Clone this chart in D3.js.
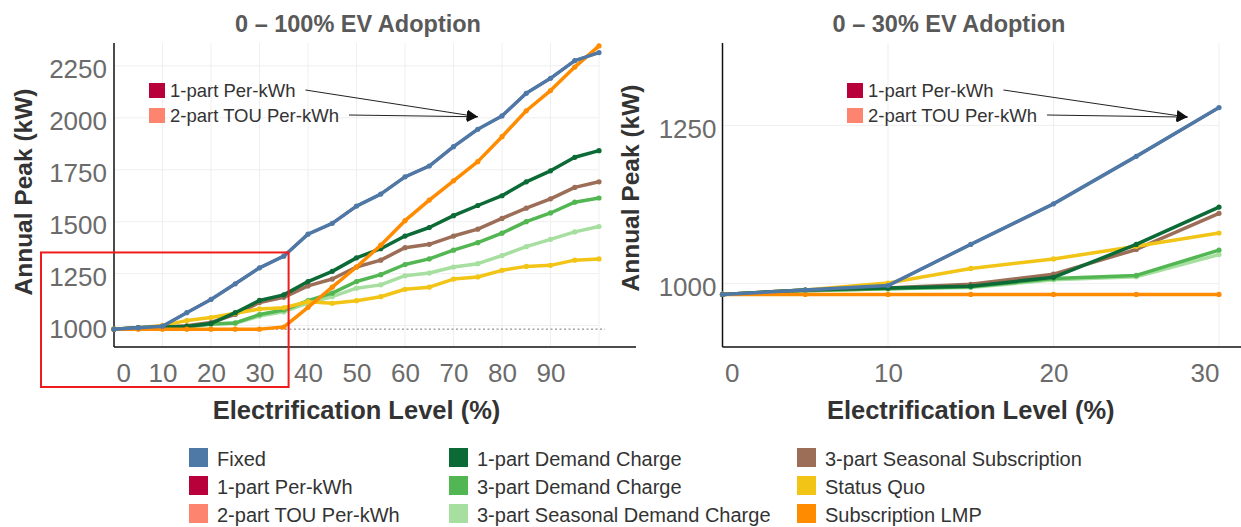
<!DOCTYPE html>
<html>
<head>
<meta charset="utf-8">
<script src="https://cdn.jsdelivr.net/npm/d3@7"></script>
<style>
  html, body { margin: 0; padding: 0; background: #fff; }
  svg { display: block; font-family: "Liberation Sans", Arial, sans-serif; }
</style>
</head>
<body>
<svg id="chart" width="1241" height="527"></svg>
<script>
// electrification level (%) – one point every 5%
const levels = [0, 5, 10, 15, 20, 25, 30, 35, 40, 45, 50, 55, 60, 65, 70, 75, 80, 85, 90, 95, 100];

// annual peak (kW)
const fixed          = [983, 990, 997, 1062, 1126, 1201, 1278, 1334, 1440, 1492, 1575, 1633, 1716, 1768, 1861, 1945, 2009, 2118, 2190, 2275, 2314];
const demand1        = [983, 990, 993, 996, 1010, 1062, 1121, 1148, 1212, 1261, 1326, 1370, 1431, 1472, 1529, 1578, 1625, 1692, 1745, 1810, 1842];
const demand3        = [983, 989, 992, 995, 1008, 1013, 1053, 1075, 1120, 1156, 1212, 1245, 1294, 1321, 1363, 1399, 1445, 1500, 1542, 1594, 1614];
const seasonalDemand = [983, 989, 992, 994, 1006, 1011, 1046, 1066, 1110, 1139, 1180, 1196, 1240, 1253, 1282, 1298, 1337, 1380, 1415, 1451, 1477];
const seasonalSub    = [983, 990, 993, 999, 1015, 1054, 1111, 1136, 1191, 1224, 1282, 1315, 1375, 1391, 1431, 1464, 1516, 1565, 1610, 1665, 1692];
const statusQuo      = [983, 990, 1001, 1024, 1039, 1059, 1080, 1086, 1115, 1107, 1120, 1139, 1175, 1185, 1224, 1234, 1266, 1285, 1290, 1315, 1321];
const subLMP         = [983, 983, 983, 983, 983, 983, 983, 993, 1088, 1185, 1282, 1387, 1505, 1604, 1697, 1789, 1909, 2034, 2131, 2244, 2346];
// the two per-kWh rates sit exactly under the Fixed line (see the arrows)
const perKwh1 = fixed;
const touPerKwh2 = fixed;

const seriesNames  = ['Fixed', '1-part Per-kWh', '2-part TOU Per-kWh',
                      '1-part Demand Charge', '3-part Demand Charge', '3-part Seasonal Demand Charge',
                      '3-part Seasonal Subscription', 'Status Quo', 'Subscription LMP'];
const seriesValues = [fixed, perKwh1, touPerKwh2, demand1, demand3, seasonalDemand, seasonalSub, statusQuo, subLMP];
const seriesColors = ['#4e79a7', '#b8003a', '#fd8570', '#0b6a36', '#52b752', '#a6df9f', '#9c6e57', '#f2c416', '#ff8b00'];
// bottom to top
const drawOrder = [2, 1, 5, 4, 6, 7, 3, 8, 0];
const hidden = [1, 2]; // covered by Fixed

const leftYTicks  = [1000, 1250, 1500, 1750, 2000, 2250];
const leftXTicks  = [0, 10, 20, 30, 40, 50, 60, 70, 80, 90];
const rightYTicks = [1000, 1250];
const rightXTicks = [0, 10, 20, 30];
const baseline = 983;

const svg = d3.select('#chart');
const TOP = 43, BOTTOM = 347;

svg.append('defs').append('marker')
  .attr('id', 'arrow').attr('viewBox', '0 0 10 10')
  .attr('refX', 10).attr('refY', 5)
  .attr('markerWidth', 11).attr('markerHeight', 11)
  .attr('markerUnits', 'userSpaceOnUse')
  .attr('orient', 'auto')
  .append('path').attr('d', 'M0,0L10,5L0,10Z').attr('fill', '#111');

function panel(cfg){
  const x = d3.scaleLinear().domain(cfg.xDomain).range(cfg.xRange);
  const y = d3.scaleLinear().domain(cfg.yDomain).range([BOTTOM, TOP]);
  const x0 = cfg.xRange[0];
  const g = svg.append('g');

  // title
  g.append('text')
    .attr('x', cfg.titleX).attr('y', 32)
    .attr('text-anchor', 'middle')
    .attr('fill', '#595959').attr('font-weight', 700).attr('font-size', 23.5)
    .text(cfg.title);

  // grid
  g.append('g').selectAll('line').data(cfg.yTicks).join('line')
    .attr('x1', x0).attr('x2', cfg.gridEnd)
    .attr('y1', d => y(d)).attr('y2', d => y(d))
    .attr('stroke', '#efefef').attr('stroke-width', 1);
  g.append('g').selectAll('line').data(cfg.xGrid).join('line')
    .attr('x1', d => x(d)).attr('x2', d => x(d))
    .attr('y1', TOP).attr('y2', BOTTOM)
    .attr('stroke', '#efefef').attr('stroke-width', 1);

  // axes
  const ya = g.append('g').attr('transform', `translate(${x0},0)`)
    .call(d3.axisLeft(y).tickValues(cfg.yTicks).tickSize(0).tickPadding(cfg.yPad).tickFormat(d3.format('d')));
  const xa = g.append('g').attr('transform', `translate(0,${BOTTOM})`)
    .call(d3.axisBottom(x).tickValues(cfg.xTicks).tickSize(0).tickPadding(17).tickFormat(d3.format('d')));
  [ya, xa].forEach(a => {
    a.select('.domain').remove();
    a.selectAll('text')
      .attr('fill', '#6b6b6b').attr('font-size', 26)
      .style('font-family', '"Liberation Sans", Arial, sans-serif');
  });
  ya.selectAll('text').attr('dy', '0.45em');
  xa.selectAll('text').filter(d => d === cfg.xDomain[0]).attr('text-anchor', 'start').attr('dx', 2);
  xa.selectAll('text').filter(d => d === cfg.xDomain[1]).attr('text-anchor', 'end');

  g.append('line').attr('x1', x0).attr('x2', x0).attr('y1', TOP).attr('y2', BOTTOM)
    .attr('stroke', '#111').attr('stroke-width', 1.5);
  g.append('line').attr('x1', x0).attr('x2', cfg.axisEnd).attr('y1', BOTTOM).attr('y2', BOTTOM)
    .attr('stroke', '#111').attr('stroke-width', 1.5);

  // axis titles
  g.append('text')
    .attr('transform', `translate(${cfg.yTitleX},${cfg.yTitleY}) rotate(-90)`)
    .attr('text-anchor', 'middle')
    .attr('fill', '#333').attr('font-weight', 700).attr('font-size', 24.5)
    .text('Annual Peak (kW)');
  g.append('text')
    .attr('x', (cfg.xRange[0] + cfg.xRange[1]) / 2).attr('y', 419)
    .attr('text-anchor', 'middle')
    .attr('fill', '#333').attr('font-weight', 700).attr('font-size', 25.5)
    .text('Electrification Level (%)');

  // baseline
  if(cfg.baseline){
    g.append('line')
      .attr('x1', x0).attr('x2', x(100) + 6)
      .attr('y1', y(baseline)).attr('y2', y(baseline))
      .attr('stroke', '#777').attr('stroke-width', 1).attr('stroke-dasharray', '2,2.5');
  }

  // series
  const n = levels.filter(l => l <= cfg.xDomain[1]).length;
  const line = d3.line().x((d, i) => x(levels[i])).y(d => y(d));
  drawOrder.forEach(k => {
    const vals = seriesValues[k].slice(0, n);
    const under = hidden.includes(k);
    const s = g.append('g');
    s.append('path').attr('d', line(vals))
      .attr('fill', 'none').attr('stroke', seriesColors[k])
      .attr('stroke-width', under ? 2.5 : 3.5).attr('stroke-linejoin', 'round');
    s.selectAll('circle').data(vals).join('circle')
      .attr('cx', (d, i) => x(levels[i])).attr('cy', d => y(d))
      .attr('r', under ? 1.5 : 2.6).attr('fill', seriesColors[k]);
  });

  // per-kWh annotation
  const ann = g.append('g');
  const tip = [x(cfg.tip[0]), y(cfg.tip[1])];
  [[1, 0], [2, 25]].forEach(([k, dy]) => {
    ann.append('rect')
      .attr('x', cfg.annX).attr('y', 83 + dy).attr('width', 16).attr('height', 15)
      .attr('fill', seriesColors[k]);
    const t = ann.append('text')
      .attr('x', cfg.annX + 21).attr('y', 97 + dy)
      .attr('fill', '#333').attr('font-size', 18.5)
      .text(seriesNames[k]);
    const end = cfg.annX + 21 + t.node().getComputedTextLength() + 10;
    ann.append('line')
      .attr('x1', end).attr('y1', 90 + dy)
      .attr('x2', tip[0]).attr('y2', tip[1])
      .attr('stroke', '#222').attr('stroke-width', 1)
      .attr('marker-end', 'url(#arrow)');
  });

  return {x, y, g};
}

const left = panel({
  title: '0 – 100% EV Adoption', titleX: 358,
  xDomain: [0, 100], xRange: [114, 599], yDomain: [897, 2360],
  xTicks: leftXTicks, yTicks: leftYTicks, xGrid: [10, 20, 30, 40, 50, 60, 70, 80, 90, 100],
  yPad: 7, gridEnd: 599, axisEnd: 636,
  yTitleX: 32, yTitleY: 192,
  baseline: true, annX: 149, tip: [75, 2005]
});

const right = panel({
  title: '0 – 30% EV Adoption', titleX: 949,
  xDomain: [0, 30], xRange: [722.5, 1219], yDomain: [900, 1380],
  xTicks: rightXTicks, yTicks: rightYTicks, xGrid: [10, 20, 30],
  yPad: 6, gridEnd: 1219, axisEnd: 1241,
  yTitleX: 639, yTitleY: 188,
  baseline: false, annX: 847, tip: [28.1, 1263]
});

// red box marking the 0–35% region on the left panel
svg.append('rect')
  .attr('x', 41).attr('y', left.y(1352))
  .attr('width', left.x(36) - 41).attr('height', 387 - left.y(1352))
  .attr('fill', 'none').attr('stroke', '#ee1c1c').attr('stroke-width', 2);

// legend, three columns
const legendCols = [189, 449, 797];
const legendRowsY = [458, 486, 514];
const legend = svg.append('g');
seriesNames.forEach((name, i) => {
  const cx = legendCols[Math.floor(i / 3)], cy = legendRowsY[i % 3];
  legend.append('rect')
    .attr('x', cx).attr('y', cy - 10).attr('width', 19).attr('height', 19)
    .attr('fill', seriesColors[i]);
  legend.append('text')
    .attr('x', cx + 28).attr('y', cy + 8)
    .attr('fill', '#333').attr('font-size', 20)
    .attr('textLength', null)
    .text(name);
});
</script>
</body>
</html>
